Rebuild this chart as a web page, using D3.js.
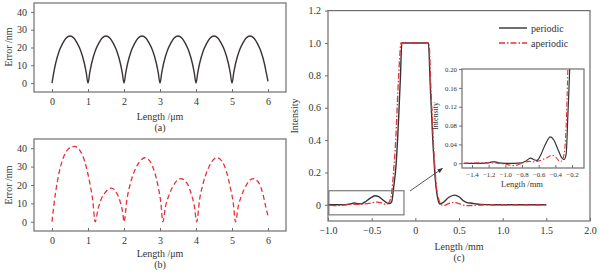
<!DOCTYPE html>
<html>
<head>
<meta charset="utf-8">
<script src="https://cdn.jsdelivr.net/npm/d3@7"></script>
<style>
  body { margin: 0; background: #fff; }
</style>
</head>
<body>
<div id="graph"></div>
<script>
// (a) periodic error, nm vs um
var aX = [0, 0.05, 0.1, 0.2, 0.3, 0.4, 0.5, 0.6, 0.7, 0.8, 0.9, 0.95,
  1, 1.05, 1.1, 1.2, 1.3, 1.4, 1.5, 1.6, 1.7, 1.8, 1.9, 1.95,
  2, 2.05, 2.1, 2.2, 2.3, 2.4, 2.5, 2.6, 2.7, 2.8, 2.9, 2.95,
  3, 3.05, 3.1, 3.2, 3.3, 3.4, 3.5, 3.6, 3.7, 3.8, 3.9, 3.95,
  4, 4.05, 4.1, 4.2, 4.3, 4.4, 4.5, 4.6, 4.7, 4.8, 4.9, 4.95,
  5, 5.05, 5.1, 5.2, 5.3, 5.4, 5.5, 5.6, 5.7, 5.8, 5.9, 5.95, 6]
var aY = [0, 6, 11, 18, 22.5, 25.5, 26.5, 25.5, 22.5, 18, 11, 6,
  0, 6, 11, 18, 22.5, 25.5, 26.5, 25.5, 22.5, 18, 11, 6,
  0, 6, 11, 18, 22.5, 25.5, 26.5, 25.5, 22.5, 18, 11, 6,
  0, 6, 11, 18, 22.5, 25.5, 26.5, 25.5, 22.5, 18, 11, 6,
  0, 6, 11, 18, 22.5, 25.5, 26.5, 25.5, 22.5, 18, 11, 6,
  0, 6, 11, 18, 22.5, 25.5, 26.5, 25.5, 22.5, 18, 11, 6, 1]

// (b) aperiodic error
var bX = [0, 0.1, 0.2, 0.3, 0.45, 0.62, 0.8, 0.95, 1.05, 1.13, 1.2,
  1.28, 1.36, 1.48, 1.65, 1.8, 1.9, 1.96, 2.0,
  2.08, 2.18, 2.3, 2.45, 2.58, 2.72, 2.85, 2.95, 3.02, 3.08,
  3.15, 3.25, 3.38, 3.57, 3.75, 3.87, 3.95, 4.02,
  4.1, 4.2, 4.32, 4.45, 4.58, 4.72, 4.85, 4.95, 5.03, 5.1,
  5.17, 5.27, 5.4, 5.58, 5.75, 5.86, 5.94, 6.0]
var bY = [0, 16, 27, 34, 39.5, 41, 38, 30, 21, 12, 0,
  7, 12, 16, 18.3, 15.5, 10.5, 5.5, 0,
  12, 21, 28, 33, 34.8, 33, 27, 19, 11, 0,
  8, 14.5, 20, 23.5, 21, 15, 9, 0,
  12, 21, 28, 33, 34.8, 33, 27, 19, 11, 0,
  8, 14.5, 20, 23.5, 21, 15, 8, 3]

// (c) intensity profiles, mm
var perX = [-1.5, -1.3, -1.2, -1.16, -1.12, -1.08, -1.0, -0.9, -0.8, -0.75, -0.7, -0.65, -0.62,
  -0.58, -0.52, -0.46, -0.42, -0.37, -0.32, -0.295, -0.27, -0.25, -0.22, -0.19, -0.17, -0.155,
  0.15, 0.17, 0.2, 0.23, 0.26, 0.28, 0.32, 0.38, 0.45, 0.5, 0.55, 0.6, 0.65, 0.7, 0.8, 1.0, 1.5]
var perY = [0, 0, 0.001, 0.003, 0.003, 0.001, 0, 0, 0.001, 0.005, 0.011, 0.007, 0.006,
  0.016, 0.04, 0.056, 0.05, 0.03, 0.011, 0.008, 0.02, 0.1, 0.25, 0.55, 0.8, 1.0,
  1.0, 0.75, 0.4, 0.15, 0.03, 0.005, 0.015, 0.045, 0.06, 0.05, 0.025, 0.012, 0.01, 0.005, 0.001, 0, 0]

var aperX = [-1.5, -1.2, -1.0, -0.9, -0.8, -0.72, -0.65, -0.58, -0.5, -0.44, -0.4, -0.36, -0.33,
  -0.3, -0.27, -0.25, -0.22, -0.2, -0.18, -0.165,
  0.155, 0.18, 0.21, 0.24, 0.27, 0.3, 0.33, 0.38, 0.44, 0.5, 0.55, 0.6, 0.7, 0.8, 1.0, 1.5]
var aperY = [0, 0.001, -0.002, -0.005, 0, 0.004, 0.003, 0.006, 0.012, 0.017, 0.014, 0.006, 0.004,
  0.015, 0.08, 0.2, 0.45, 0.7, 0.9, 1.0,
  1.0, 0.7, 0.35, 0.12, 0.03, 0, -0.003, 0.008, 0.015, 0.008, -0.002, -0.005, -0.003, 0, 0, 0]

var seriesNames = ['periodic', 'aperiodic']
var aTicksX = [0, 1, 2, 3, 4, 5, 6]
var aTicksY = [0, 10, 20, 30, 40]
var cTicksX = [-1, -0.5, 0, 0.5, 1, 1.5, 2]
var cTicksY = [0, 0.2, 0.4, 0.6, 0.8, 1.0, 1.2]
var insetTicksX = [-1.4, -1.2, -1.0, -0.8, -0.6, -0.4, -0.2]
var insetTicksY = [0, 0.04, 0.08, 0.12, 0.16, 0.20]

var black = '#333'
var red = '#e8303a'
var frameColor = '#6e6e6e'
var serif = '"Liberation Serif", "Times New Roman", serif'

var svg = d3.select('#graph').append('svg')
  .attr('width', 600).attr('height', 273)
  .style('font-family', serif)

var minus = s => s.replace('-', '\u2212')
var fmt1 = d => d == 0 ? '0' : minus(d3.format('.1f')(d))
var fmt2 = d => d == 0 ? '0' : minus(d3.format('.2f')(d))

function label(x, y, txt, size, rot){
  return svg.append('text')
    .attr('transform', `translate(${x},${y})` + (rot ? ' rotate(-90)' : ''))
    .attr('text-anchor', 'middle')
    .attr('font-family', serif)
    .attr('font-size', size)
    .attr('fill', '#333')
    .text(txt)
}

function panel(o){
  var g = svg.append('g')
  var x = d3.scaleLinear().domain(o.xd).range(o.xr)
  var y = d3.scaleLinear().domain(o.yd).range(o.yr)
  var fs = o.fs || 10

  // ticks inward on x, outward on y
  g.append('g')
    .attr('transform', `translate(0,${o.yr[0]})`)
    .call(d3.axisBottom(x).tickValues(o.tx).tickSize(-3).tickPadding(o.padx || 6).tickFormat(o.fx))
    .attr('font-family', serif)
    .call(a => a.select('.domain').remove())
    .call(a => a.selectAll('line').attr('stroke', frameColor))
    .call(a => a.selectAll('text').attr('font-size', fs).attr('fill', '#333'))
  g.append('g')
    .attr('transform', `translate(${o.xr[0]},0)`)
    .call(d3.axisLeft(y).tickValues(o.ty).tickSize(3).tickPadding(o.pady || 4).tickFormat(o.fy))
    .attr('font-family', serif)
    .call(a => a.select('.domain').remove())
    .call(a => a.selectAll('line').attr('stroke', frameColor))
    .call(a => a.selectAll('text').attr('font-size', fs).attr('fill', '#333'))

  var clipId = 'clip' + Math.round(o.xr[0]) + Math.round(o.yr[1])
  g.append('clipPath').attr('id', clipId).append('rect')
    .attr('x', o.xr[0]).attr('y', o.yr[1])
    .attr('width', o.xr[1] - o.xr[0]).attr('height', o.yr[0] - o.yr[1])

  o.series.forEach(s => {
    var pts = s.xs.map((d, i) => [d, s.ys[i]])
    g.append('path')
      .attr('clip-path', `url(#${clipId})`)
      .attr('d', d3.line().x(d => x(d[0])).y(d => y(d[1])).curve(d3.curveMonotoneX)(pts))
      .attr('fill', 'none')
      .attr('stroke', s.color)
      .attr('stroke-width', s.width || 1.3)
      .attr('stroke-dasharray', s.dash || null)
  })

  g.append('rect')
    .attr('x', o.xr[0]).attr('y', o.yr[1])
    .attr('width', o.xr[1] - o.xr[0]).attr('height', o.yr[0] - o.yr[1])
    .attr('fill', 'none').attr('stroke', frameColor).attr('stroke-width', 1.2)

  return {g, x, y}
}

// (a)
panel({
  xd: [-0.5, 6.5], xr: [34, 286], yd: [-5, 45], yr: [92, 3],
  tx: aTicksX, ty: aTicksY, fx: d3.format('d'), fy: d3.format('d'),
  series: [{xs: aX, ys: aY, color: '#3a3333', width: 1.4}]
})
label(160, 120, 'Length /\u03bcm', 10)
label(160, 131, '(a)', 10)
label(12, 47, 'Error /nm', 10, true)

// (b)
panel({
  xd: [-0.5, 6.5], xr: [34, 286], yd: [-5, 45], yr: [231, 139],
  tx: aTicksX, ty: aTicksY, fx: d3.format('d'), fy: d3.format('d'),
  series: [{xs: bX, ys: bY, color: red, width: 1.3, dash: '5,3'}]
})
label(160, 257, 'Length /\u03bcm', 10)
label(160, 268, '(b)', 10)
label(12, 185, 'Error /nm', 10, true)

// (c) main
var cSeries = [
  {xs: perX, ys: perY, color: black, width: 1.4},
  {xs: aperX, ys: aperY, color: red, width: 1.3, dash: '6,2,1.5,2'}
]
var pc = panel({
  xd: [-1, 2], xr: [328, 590], yd: [-0.1, 1.2], yr: [221, 10.6],
  tx: cTicksX, ty: cTicksY, fx: fmt1, fy: fmt1,
  series: cSeries
})
label(459, 250, 'Length /mm', 10)
label(459, 261, '(c)', 10)
label(298, 116, 'Intensity', 10, true)

// zoom box + arrow
var zx = pc.x, zy = pc.y
svg.append('rect')
  .attr('x', zx(-0.99)).attr('y', zy(0.087))
  .attr('width', zx(-0.13) - zx(-0.99)).attr('height', zy(-0.062) - zy(0.087))
  .attr('fill', 'none').attr('stroke', frameColor).attr('stroke-width', 1.1)
svg.append('defs').append('marker')
  .attr('id', 'arr').attr('viewBox', '0 0 10 10').attr('refX', 9).attr('refY', 5)
  .attr('markerWidth', 6).attr('markerHeight', 6).attr('orient', 'auto')
  .append('path').attr('d', 'M0,1 L10,5 L0,9 Z').attr('fill', '#333')
svg.append('line')
  .attr('x1', zx(-0.06)).attr('y1', zy(0.086))
  .attr('x2', zx(0.31)).attr('y2', zy(0.225))
  .attr('stroke', '#444').attr('stroke-width', 0.9)
  .attr('marker-end', 'url(#arr)')

// legend
var leg = svg.append('g')
cSeries.forEach((s, i) => {
  var yy = 28 + i*15
  leg.append('line').attr('x1', 499).attr('x2', 527).attr('y1', yy).attr('y2', yy)
    .attr('stroke', s.color).attr('stroke-width', s.width).attr('stroke-dasharray', s.dash || null)
  leg.append('text').attr('x', 531).attr('y', yy + 3.5)
    .attr('font-family', serif).attr('font-size', 10).attr('fill', '#333')
    .text(seriesNames[i])
})

// inset
panel({
  xd: [-1.52, -0.056], xr: [462, 584], yd: [-0.01, 0.2], yr: [168, 69],
  tx: insetTicksX, ty: insetTicksY, fx: fmt1, fy: fmt2, fs: 6.8, padx: 4, pady: 2,
  series: [
    {xs: perX, ys: perY, color: black, width: 1.2},
    {xs: aperX, ys: aperY, color: red, width: 1.1, dash: '5,2,1.5,2'}
  ]
})
label(522, 187, 'Length /mm', 8.5)
label(438, 116, 'Intensity', 8, true)
</script>
</body>
</html>
